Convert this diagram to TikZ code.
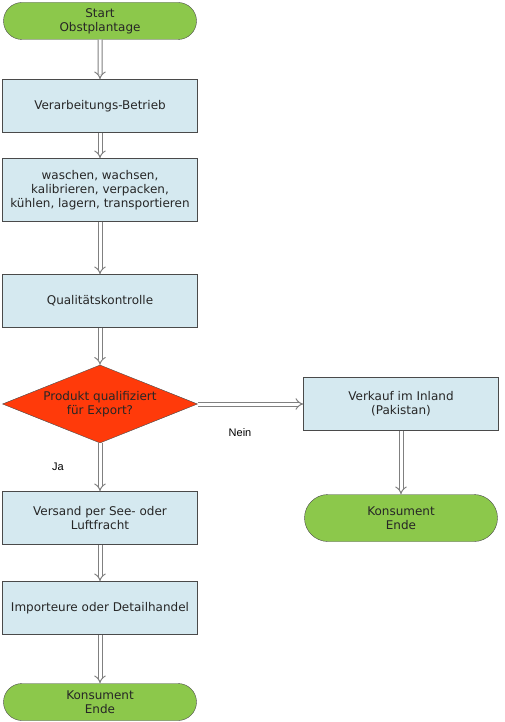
\documentclass[tikz,border=0pt]{standalone}
\usepackage{fontspec}
\setmainfont{DejaVu Sans}
\newfontfamily\labelfont{Liberation Sans}
\usetikzlibrary{shapes.geometric, shapes.misc, arrows.meta}

\definecolor{termgreen}{HTML}{8CC84B}
\definecolor{boxblue}{HTML}{D5E9F0}
\definecolor{decred}{HTML}{FF3A0A}
\definecolor{linegray}{HTML}{4A4A4A}

\begin{document}
\begin{tikzpicture}[
        x=1pt, y=-1pt,
        terminal/.style={rounded rectangle, draw=linegray, fill=termgreen, align=center, minimum width=195pt, minimum height=37pt, inner sep=1pt, font=\fontsize{12}{14}\selectfont, text=black!85},
        process/.style={rectangle, draw=linegray, fill=boxblue, align=center, minimum width=195pt, minimum height=53pt, inner sep=2pt, font=\fontsize{12}{14}\selectfont, text=black!85},
        decision/.style={diamond, draw=linegray, fill=decred, align=center, minimum width=195pt, minimum height=78pt, inner sep=0pt, aspect=2.5, font=\fontsize{12}{14}\selectfont, text=black!85},
        flow/.style={draw=gray, double=white, double distance=3pt, line width=1pt, -{Implies}},
        answer/.style={font=\labelfont\fontsize{11}{13}\selectfont}
    ]
    \useasboundingbox (0,0) rectangle (504,722);

    % Main column
    \node[terminal] (start) at (100, 21) {Start\\Obstplantage};
    \node[process] (betrieb) at (100, 106) {Verarbeitungs-Betrieb};
    \node[process, minimum height=63pt] (behandlung) at (100, 190) {waschen, wachsen,\\kalibrieren, verpacken,\\kühlen, lagern, transportieren};
    \node[process] (kontrolle) at (100, 301) {Qualitätskontrolle};
    \node[decision] (export) at (100, 404) {Produkt qualifiziert\\für Export?};
    \node[process] (versand) at (100, 518) {Versand per See- oder\\Luftfracht};
    \node[process] (import) at (100, 608) {Importeure oder Detailhandel};
    \node[terminal] (ende) at (100, 702) {Konsument\\Ende};

    % Side branch
    \node[process] (inland) at (401, 404) {Verkauf im Inland\\(Pakistan)};
    \node[terminal, minimum height=47pt] (endeinland) at (401, 518) {Konsument\\Ende};

    % Labels
    \node[answer] (ja) at (58, 467) {Ja};
    \node[answer] (nein) at (240, 433) {Nein};

    % Connections
    \draw[flow] (start) -- (betrieb);
    \draw[flow] (betrieb) -- (behandlung);
    \draw[flow] (behandlung) -- (kontrolle);
    \draw[flow] (kontrolle) -- (export);
    \draw[flow] (export) -- (versand);
    \draw[flow] (versand) -- (import);
    \draw[flow] (import) -- (ende);
    \draw[flow] (export.east) -- (inland.west);
    \draw[flow] (inland) -- (endeinland);
\end{tikzpicture}
\end{document}
